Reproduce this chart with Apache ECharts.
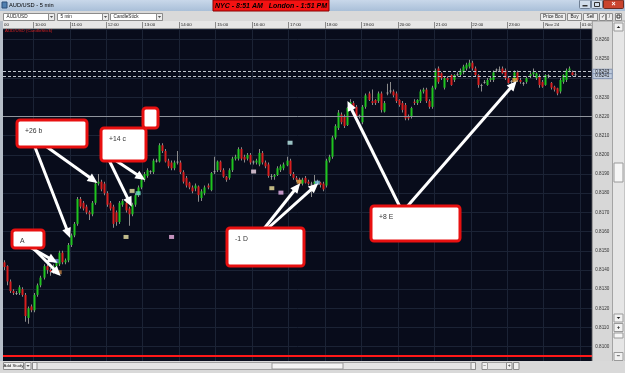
<!DOCTYPE html>
<html><head><meta charset="utf-8">
<script src="https://cdn.jsdelivr.net/npm/echarts@6/dist/echarts.min.js"></script>
<style>html,body{margin:0;padding:0;background:#d6d6d6;overflow:hidden}#c{width:625px;height:373px}</style>
</head><body><div id="c"></div><script>
// ---------------- DATA ----------------
const startMinute = 9 * 60 + 10;       // first bar 09:10, 5-minute bars
const barSlots = 194;                  // slots visible on the time axis
const hourNames = { '00:00': 'Nov 24' };
const opens = [
0.81440,0.81420,0.81340,0.81290,0.81280,0.81280,0.81300,0.81270,0.81150,0.81210,
0.81190,0.81270,0.81320,0.81360,0.81420,0.81400,0.81390,0.81420,0.81430,0.81490,
0.81440,0.81450,0.81530,0.81580,0.81640,0.81770,0.81750,0.81730,0.81700,0.81690,
0.81750,0.81850,0.81860,0.81850,0.81800,0.81750,0.81730,0.81700,0.81650,0.81740,
0.81750,0.81720,0.81690,0.81740,0.81790,0.81830,0.81870,0.81890,0.81910,0.81910,
0.81970,0.81965,0.82050,0.82020,0.81970,0.81960,0.81930,0.81960,0.81960,0.81910,
0.81880,0.81855,0.81830,0.81825,0.81835,0.81775,0.81800,0.81840,0.81816,0.81910,
0.81920,0.81965,0.81920,0.81886,0.81880,0.81920,0.81980,0.81980,0.82030,0.81990,
0.81980,0.82000,0.81965,0.81960,0.81950,0.82010,0.81960,0.81950,0.81890,0.81886,
0.81895,0.81920,0.81930,0.81945,0.81970,0.81900,0.81880,0.81870,0.81850,0.81880,
0.81860,0.81850,0.81850,0.81860,0.81855,0.81850,0.81840,0.81970,0.81990,0.82090,
0.82140,0.82210,0.82200,0.82155,0.82260,0.82270,0.82250,0.82205,0.82170,0.82250,
0.82320,0.82280,0.82286,0.82280,0.82320,0.82225,0.82320,0.82330,0.82330,0.82320,
0.82286,0.82270,0.82260,0.82200,0.82200,0.82277,0.82270,0.82280,0.82330,0.82340,
0.82280,0.82250,0.82350,0.82450,0.82425,0.82350,0.82400,0.82416,0.82390,0.82415,
0.82416,0.82430,0.82450,0.82460,0.82480,0.82450,0.82416,0.82364,0.82380,0.82364,
0.82390,0.82390,0.82440,0.82445,0.82450,0.82440,0.82400,0.82380,0.82390,0.82430,
0.82390,0.82375,0.82380,0.82410,0.82420,0.82400,0.82410,0.82380,0.82364,0.82415,
0.82375,0.82355,0.82347,0.82330,0.82380,0.82390,0.82440,0.82430,0.82420];
const closes = [
0.81415,0.81340,0.81290,0.81280,0.81280,0.81310,0.81270,0.81160,0.81200,0.81190,
0.81270,0.81320,0.81360,0.81420,0.81400,0.81390,0.81420,0.81440,0.81490,0.81440,
0.81450,0.81530,0.81580,0.81640,0.81770,0.81730,0.81720,0.81700,0.81690,0.81750,
0.81850,0.81860,0.81820,0.81800,0.81740,0.81720,0.81640,0.81650,0.81750,0.81760,
0.81710,0.81690,0.81740,0.81790,0.81830,0.81870,0.81900,0.81920,0.81915,0.81970,
0.81970,0.82050,0.82020,0.81965,0.81940,0.81930,0.81960,0.81965,0.81910,0.81860,
0.81840,0.81830,0.81810,0.81840,0.81790,0.81810,0.81830,0.81830,0.81905,0.81915,
0.81965,0.81920,0.81886,0.81870,0.81920,0.81980,0.81990,0.82030,0.81980,0.81975,
0.82000,0.81960,0.81960,0.81970,0.82010,0.81960,0.81940,0.81890,0.81886,0.81895,
0.81930,0.81940,0.81950,0.81970,0.81900,0.81880,0.81870,0.81850,0.81870,0.81855,
0.81850,0.81845,0.81860,0.81855,0.81843,0.81820,0.81970,0.81990,0.82090,0.82150,
0.82220,0.82170,0.82150,0.82245,0.82275,0.82244,0.82200,0.82200,0.82250,0.82310,
0.82286,0.82270,0.82270,0.82320,0.82234,0.82270,0.82325,0.82335,0.82310,0.82280,
0.82260,0.82234,0.82190,0.82190,0.82244,0.82270,0.82286,0.82330,0.82340,0.82280,
0.82250,0.82350,0.82440,0.82380,0.82400,0.82400,0.82390,0.82364,0.82416,0.82420,
0.82440,0.82460,0.82470,0.82480,0.82450,0.82416,0.82364,0.82360,0.82375,0.82390,
0.82400,0.82430,0.82445,0.82440,0.82425,0.82400,0.82375,0.82385,0.82430,0.82390,
0.82380,0.82370,0.82400,0.82420,0.82430,0.82425,0.82364,0.82355,0.82416,0.82410,
0.82350,0.82340,0.82320,0.82390,0.82416,0.82440,0.82450,0.82416,0.82416];
const highs = [
0.81450,0.81425,0.81350,0.81300,0.81290,0.81320,0.81310,0.81280,0.81210,0.81220,
0.81280,0.81330,0.81370,0.81430,0.81430,0.81410,0.81430,0.81450,0.81500,0.81500,
0.81460,0.81540,0.81590,0.81650,0.81780,0.81780,0.81760,0.81740,0.81710,0.81760,
0.81860,0.81900,0.81870,0.81860,0.81810,0.81760,0.81740,0.81710,0.81760,0.81770,
0.81760,0.81730,0.81750,0.81800,0.81840,0.81880,0.81910,0.81930,0.81920,0.81980,
0.81980,0.82060,0.82060,0.82030,0.81980,0.81970,0.81970,0.82020,0.81970,0.81920,
0.81890,0.81860,0.81840,0.81850,0.81840,0.81820,0.81840,0.81850,0.81910,0.81990,
0.81970,0.81970,0.81930,0.81890,0.81930,0.81990,0.82000,0.82040,0.82040,0.82000,
0.82010,0.82010,0.81970,0.81980,0.82030,0.82020,0.81970,0.81960,0.81900,0.81900,
0.81940,0.81950,0.81960,0.81990,0.81980,0.81910,0.81890,0.81880,0.81880,0.81890,
0.81870,0.81860,0.81895,0.81870,0.81860,0.81860,0.81980,0.82000,0.82100,0.82160,
0.82234,0.82220,0.82210,0.82250,0.82290,0.82280,0.82260,0.82210,0.82260,0.82320,
0.82330,0.82340,0.82290,0.82330,0.82330,0.82280,0.82370,0.82380,0.82340,0.82330,
0.82290,0.82280,0.82270,0.82210,0.82250,0.82290,0.82290,0.82340,0.82350,0.82350,
0.82290,0.82360,0.82450,0.82460,0.82430,0.82410,0.82410,0.82420,0.82420,0.82430,
0.82450,0.82470,0.82480,0.82495,0.82490,0.82460,0.82420,0.82370,0.82390,0.82400,
0.82410,0.82440,0.82450,0.82460,0.82460,0.82450,0.82410,0.82390,0.82440,0.82440,
0.82400,0.82380,0.82410,0.82430,0.82450,0.82430,0.82420,0.82390,0.82420,0.82420,
0.82380,0.82360,0.82350,0.82400,0.82420,0.82450,0.82460,0.82440,0.82430];
const lows = [
0.81400,0.81320,0.81280,0.81270,0.81270,0.81270,0.81260,0.81130,0.81120,0.81180,
0.81180,0.81260,0.81310,0.81350,0.81380,0.81370,0.81380,0.81410,0.81420,0.81430,
0.81430,0.81440,0.81520,0.81570,0.81630,0.81720,0.81710,0.81690,0.81660,0.81680,
0.81740,0.81840,0.81810,0.81790,0.81730,0.81710,0.81620,0.81630,0.81640,0.81730,
0.81700,0.81630,0.81680,0.81730,0.81780,0.81820,0.81860,0.81880,0.81900,0.81900,
0.81960,0.81960,0.82010,0.81960,0.81930,0.81920,0.81920,0.81950,0.81900,0.81850,
0.81830,0.81820,0.81800,0.81810,0.81755,0.81760,0.81790,0.81820,0.81810,0.81900,
0.81910,0.81910,0.81880,0.81860,0.81870,0.81910,0.81970,0.81970,0.81970,0.81960,
0.81970,0.81950,0.81950,0.81950,0.81940,0.81950,0.81930,0.81880,0.81870,0.81870,
0.81890,0.81910,0.81920,0.81940,0.81890,0.81870,0.81860,0.81840,0.81840,0.81850,
0.81840,0.81780,0.81840,0.81850,0.81830,0.81810,0.81830,0.81960,0.81980,0.82080,
0.82130,0.82160,0.82140,0.82150,0.82250,0.82240,0.82190,0.82190,0.82160,0.82240,
0.82280,0.82260,0.82260,0.82270,0.82220,0.82220,0.82310,0.82320,0.82300,0.82270,
0.82250,0.82220,0.82180,0.82180,0.82190,0.82260,0.82260,0.82270,0.82320,0.82270,
0.82240,0.82240,0.82340,0.82370,0.82390,0.82340,0.82380,0.82360,0.82380,0.82410,
0.82410,0.82420,0.82440,0.82450,0.82440,0.82410,0.82350,0.82330,0.82370,0.82360,
0.82380,0.82380,0.82430,0.82435,0.82420,0.82390,0.82370,0.82370,0.82380,0.82380,
0.82370,0.82360,0.82370,0.82400,0.82410,0.82390,0.82350,0.82350,0.82360,0.82400,
0.82340,0.82330,0.82310,0.82320,0.82370,0.82380,0.82430,0.82410,0.82410];
const priceMin = 0.8090, priceMax = 0.826558, priceStep = 0.001;
const bidAskPrices = [0.82433, 0.82410];
const levelPrice = 0.8220;
const redLinePrice = 0.80952;
// trade markers: [bar index, price, colour]
const markerIdx   = [40, 55, 82, 94, 88, 91, 42, 44, 97, 103, 168, 18, 17];
const markerPrice = [0.81572, 0.81572, 0.81913, 0.82063, 0.81826, 0.81803, 0.81812, 0.81800, 0.81860, 0.81855, 0.82390, 0.81388, 0.81447];
const markerColor = ['#efe6a6','#f2b4e6','#f6dcec','#bff0ee','#efe39c','#f0b8f0','#efe6a6','#6fe0c8','#e8a84a','#7cc4e6','#e8a84a','#c08040','#6a86c8'];
// annotation labels and arrow targets [bar index (fractional), price]
const noteLabels = ['+26 b', '+14 c', '', 'A', '-1 D', '+8 E'];
const arrowTargets = [[21.6,0.81567],[30.6,0.81853],[41.9,0.81730],[46.3,0.81869],[17.4,0.81438],[18.5,0.81369],[97.3,0.81852],[103.3,0.81852],[112.9,0.82281],[168.6,0.82385]];

// ---------------- LAYOUT ----------------
const categories = [];
for (let k = 0; k < barSlots; k++) {
  const m = startMinute + 5 * k, h = Math.floor(m / 60) % 24, mm = m % 60;
  categories.push(String(h).padStart(2, '0') + ':' + String(mm).padStart(2, '0'));
}
const GL = 3, GT = 29, BW = 3.0375, GW = BW * barSlots;
const PX_PER_PIP = 1.91875;
const GH = (priceMax - priceMin) / 0.0001 * PX_PER_PIP;
const F = 'Liberation Sans';
const isHour = (i, v) => typeof v === 'string' && v.slice(3) === '00';
const priceFmt = v => (Math.abs(v * 1000 - Math.round(v * 1000)) < 1e-6 ? v.toFixed(4) : '');

const candleData = opens.map((o, i) => [i, o, closes[i], lows[i], highs[i]]);
function renderCandle(params, api) {
  const i = api.value(0), o = api.value(1), c = api.value(2), l = api.value(3), h = api.value(4);
  const pO = api.coord([i, o]), pC = api.coord([i, c]), pH = api.coord([i, h]), pL = api.coord([i, l]);
  const cx = Math.floor(pO[0]);
  const top = Math.min(pO[1], pC[1]);
  const bh = Math.max(1, Math.abs(pO[1] - pC[1]));
  const doji = Math.abs(c - o) < 0.00006;
  const col = doji ? '#a0a0a0' : (c > o ? '#1fc41f' : '#d81e1e');
  return { type: 'group', children: [
    { type: 'rect', shape: { x: cx, y: pH[1], width: 1, height: Math.max(1, pL[1] - pH[1]) }, style: { fill: '#8a8a8a' } },
    { type: 'rect', shape: { x: cx - 0.5, y: top, width: 2, height: bh }, style: { fill: col } }
  ] };
}
const markerData = markerIdx.map((x, k) => ({ value: [x, markerPrice[k]], itemStyle: { color: markerColor[k] } }));

const chart = echarts.init(document.getElementById('c'), null, { renderer: 'canvas', width: 625, height: 373 });
chart.setOption({
  animation: false,
  backgroundColor: '#d6d6d6',
  textStyle: { fontFamily: F },
  grid: { left: GL, top: GT, width: GW, height: GH, show: true, backgroundColor: '#080c1b', borderWidth: 0 },
  xAxis: {
    type: 'category', data: categories, position: 'top', boundaryGap: true, z: 1,
    axisLine: { show: false },
    axisTick: { show: true, interval: isHour, length: 7, lineStyle: { color: '#8a8a8a' } },
    axisLabel: { interval: isHour, formatter: v => hourNames[v] || v, align: 'left', margin: 2, fontSize: 4.4, color: '#222', fontFamily: F },
    splitLine: { show: true, interval: isHour, lineStyle: { color: '#1b2335', width: 1 } }
  },
  yAxis: [
    { type: 'value', position: 'left', min: priceMin, max: priceMax, interval: priceStep, z: 1,
      axisLine: { show: false }, axisTick: { show: false }, axisLabel: { show: false },
      splitLine: { show: true, lineStyle: { color: '#1b2335', width: 1 } } },
    { type: 'value', position: 'right', min: priceMin, max: priceMax, interval: priceStep, z: 20,
      axisLine: { show: false }, axisTick: { show: false }, splitLine: { show: false },
      axisLabel: { margin: 3, fontSize: 4.6, color: '#333', fontFamily: F, formatter: priceFmt } }
  ],
  series: [
    { type: 'custom', renderItem: renderCandle, data: candleData, encode: { x: 0, y: [1, 2, 3, 4] }, clip: true, z: 3 },
    { type: 'scatter', data: markerData, symbol: 'rect', symbolSize: [5, 4], z: 4, silent: true,
      markLine: { silent: true, symbol: ['none', 'none'], label: { show: false }, animation: false, precision: 5,
        data: [
          { yAxis: redLinePrice, lineStyle: { color: '#ff1818', width: 2, type: 'solid' } },
          { yAxis: levelPrice, lineStyle: { color: '#8f949c', width: 1, type: 'solid' } },
          { yAxis: bidAskPrices[0], lineStyle: { color: '#bfc4cd', width: 1, type: [3, 2] } },
          { yAxis: bidAskPrices[1], lineStyle: { color: '#bfc4cd', width: 1, type: [3, 2] } }
        ] } }
  ]
});

// ---------------- CHROME + ANNOTATIONS ----------------
function R(x, y, w, h, fill, stroke, z, r) {
  return { type: 'rect', silent: true, z: z == null ? 10 : z, shape: { x, y, width: w, height: h, r: r || 0 },
    style: { fill, stroke: stroke || null, lineWidth: stroke ? 1 : 0 } };
}
function T(x, y, text, size, color, extra, z) {
  return { type: 'text', silent: true, z: z == null ? 60 : z, x, y,
    style: Object.assign({ text, fontSize: size, fontFamily: F, fill: color || '#222', align: 'left', verticalAlign: 'middle' }, extra || {}) };
}
function tri(cx, cy, s, down) {
  return { type: 'polygon', silent: true, z: 61, shape: { points: down ? [[cx - s, cy - s / 2], [cx + s, cy - s / 2], [cx, cy + s / 2]] : [[cx - s, cy + s / 2], [cx + s, cy + s / 2], [cx, cy - s / 2]] }, style: { fill: '#222' } };
}
function px(idx, price) {
  const f = Math.floor(idx);
  const p = chart.convertToPixel({ xAxisIndex: 0, yAxisIndex: 0 }, [f, price]);
  return [p[0] + (idx - f) * BW, p[1]];
}
function arrow(x1, y1, x2, y2) {
  const dx = x2 - x1, dy = y2 - y1, len = Math.hypot(dx, dy), ux = dx / len, uy = dy / len;
  const hl = 10, hw = 4.5, bx = x2 - ux * hl, by = y2 - uy * hl;
  return [
    { type: 'line', silent: true, z: 40, shape: { x1, y1, x2: bx + ux, y2: by + uy }, style: { stroke: '#ffffff', lineWidth: 3 } },
    { type: 'polygon', silent: true, z: 40, shape: { points: [[x2, y2], [bx - uy * hw, by + ux * hw], [bx + uy * hw, by - ux * hw]] }, style: { fill: '#ffffff' } }
  ];
}

const g = [];
// title bar
g.push(R(0, 0, 625, 11, { type: 'linear', x: 0, y: 0, x2: 0, y2: 1, colorStops: [{ offset: 0, color: '#c9d8ea' }, { offset: 1, color: '#a9bfd8' }] }, null, 10));
g.push(R(2, 2, 5, 6, '#4f7fb0', '#2d4f78', 11));
g.push(T(9, 5.5, 'AUD/USD - 5 min', 5.7, '#000'));
g.push(R(213, 0, 116, 11, '#f41212', '#8a0000', 11));
g.push(T(271, 5.8, 'NYC - 8:51 AM   London - 1:51 PM', 7, '#000', { align: 'center', fontWeight: 'bold', fontStyle: 'italic' }));
g.push(R(579.5, 0, 11, 8.5, '#d2deeb', '#6f7f94', 11, 1));
g.push(R(591.5, 0, 11, 8.5, '#d2deeb', '#6f7f94', 11, 1));
g.push(R(603.5, 0, 20, 8.5, '#c9442e', '#6b2a20', 11, 1));
g.push(R(582.5, 5, 5, 1.5, '#333', null, 12));
g.push(R(594.5, 2.5, 5, 4, 'none', '#333', 12));
g.push(T(613.5, 4.5, '×', 7, '#fff', { align: 'center', fontWeight: 'bold' }));
// toolbar
g.push(R(0, 11, 625, 10, '#d9d9d9', null, 10));
[[3.5, 51, 'AUD/USD'], [57.5, 51, '5 min'], [110.5, 52, 'CandleStick']].forEach(d => {
  g.push(R(d[0], 13.5, d[1], 7, '#ffffff', '#8c8c8c', 11));
  g.push(R(d[0] + d[1] - 6, 13.5, 6, 7, '#ececec', '#8c8c8c', 12));
  g.push(tri(d[0] + d[1] - 3, 17, 1.6, true));
  g.push(T(d[0] + 3, 17.2, d[2], 4.7, '#222'));
});
[[540.5, 25, 'Price Box'], [567.5, 14, 'Buy'], [583.5, 14, 'Sell']].forEach(d => {
  g.push(R(d[0], 13.5, d[1], 7, '#eeeeee', '#8c8c8c', 11));
  g.push(T(d[0] + d[1] / 2, 17.2, d[2], 4.7, '#222', { align: 'center' }));
});
g.push(R(599.5, 13.5, 6, 7, '#eeeeee', '#8c8c8c', 11));
g.push(T(602.5, 17, '✓', 5, '#333', { align: 'center' }));
g.push(R(606.5, 13.5, 6, 7, '#eeeeee', '#8c8c8c', 11));
g.push(T(609.5, 17, '/', 5, '#333', { align: 'center' }));
g.push(R(615.5, 13.5, 6, 7, '#eeeeee', '#8c8c8c', 11));
g.push(R(617, 15, 3, 3, 'none', '#333', 12));
// time header strip (below the x-axis labels)
g.push(R(GL, 21, GW, 8, '#e6e6e6', null, 0));
g.push(R(GL, 28.3, GW, 0.7, '#8a8a8a', null, 0));
g.push(T(4, 25.2, '00', 4.4, '#222', null, 6));
// left border
g.push(R(0, 21, GL, 342, '#b6bec8', null, 10));
// price panel (covers overflowing time labels)
g.push(R(GL + GW, 21, 612.5 - GL - GW, 341, '#d7d7d7', '#9c9c9c', 10));
// right scrollbar column
g.push(R(612.5, 21, 12.5, 341, '#e6e6e6', '#a4a4a4', 10));
g.push(R(614, 23, 9, 8, '#f2f2f2', '#9a9a9a', 11));
g.push(tri(618.5, 27, 1.8, false));
g.push(R(614, 163, 9, 19, '#f6f6f6', '#9a9a9a', 11));
g.push(R(614, 314, 9, 8, '#f2f2f2', '#9a9a9a', 11));
g.push(tri(618.5, 318, 1.8, true));
g.push(R(614, 323.5, 9, 8, '#f2f2f2', '#9a9a9a', 11));
g.push(T(618.5, 327.5, '+', 6, '#222', { align: 'center', fontWeight: 'bold' }));
g.push(R(614, 333, 9, 5, '#f6f6f6', '#9a9a9a', 11));
g.push(R(614, 352.5, 9, 8, '#f2f2f2', '#9a9a9a', 11));
g.push(T(618.5, 356.5, '−', 6, '#222', { align: 'center', fontWeight: 'bold' }));
// bottom bar
g.push(R(0, 361, 625, 12, '#d9d9d9', null, 50));
g.push(R(3.5, 362.5, 20, 7, '#f0f0f0', '#8c8c8c', 51));
g.push(T(13.5, 366, 'Add Study', 4.3, '#222', { align: 'center' }));
g.push(R(25, 362.5, 6, 7, '#f0f0f0', '#8c8c8c', 51));
g.push(tri(28, 366, 1.6, true));
g.push(R(32.5, 362.5, 443, 7, '#e4e4e4', '#a0a0a0', 51));
g.push(R(32.5, 362.5, 4.5, 7, '#f0f0f0', '#8c8c8c', 52));
g.push(R(272, 363, 71, 6, '#f4f4f4', '#9a9a9a', 52));
g.push(R(471, 362.5, 4.5, 7, '#f0f0f0', '#8c8c8c', 52));
g.push(R(482, 362.5, 5.5, 7, '#f0f0f0', '#8c8c8c', 51));
g.push(T(484.8, 365.8, '−', 5, '#222', { align: 'center' }));
g.push(R(487.5, 362.5, 19, 7, '#e4e4e4', '#a0a0a0', 51));
g.push(R(506.5, 362.5, 5.5, 7, '#f0f0f0', '#8c8c8c', 51));
g.push(T(509.3, 365.8, '+', 5, '#222', { align: 'center' }));
g.push(R(513.5, 362.5, 5.5, 7, '#f0f0f0', '#8c8c8c', 51));
// red caption in plot
g.push(T(5, 31, 'AUD/USD (CandleStick)', 4.4, '#d42020', null, 30));
// bid/ask boxes on the price axis
bidAskPrices.forEach(p => {
  const y = px(0, p)[1];
  g.push(R(GL + GW + 0.5, y - 2.5, 19.5, 5, '#bfcbdd', '#8796b2', 25));
  g.push(T(GL + GW + 10, y, p.toFixed(4), 4.6, '#222', { align: 'center' }, 26));
});
// annotation boxes
const boxes = [[17, 120, 70, 27], [101, 128, 45, 33], [143, 108, 15, 20], [12, 230, 32, 18], [227, 228, 77, 38], [371, 206, 89, 35]];
boxes.forEach((b, k) => {
  g.push(R(b[0], b[1], b[2], b[3], '#ffffff', null, 42, 3));
  g.push({ type: 'rect', silent: true, z: 43, shape: { x: b[0], y: b[1], width: b[2], height: b[3], r: 3 }, style: { fill: 'none', stroke: '#e81010', lineWidth: 3 } });
  if (noteLabels[k]) g.push(T(b[0] + 8, b[1] + 11, noteLabels[k], 6.8, '#333', null, 44));
});
// arrows (start inside the boxes, end on data points)
const arrowStarts = [[33, 142], [40, 142], [108, 158], [112, 158], [28, 246], [31, 246], [263, 230], [266, 230], [401, 209], [405, 209]];
arrowStarts.forEach((s, k) => {
  const t = px(arrowTargets[k][0], arrowTargets[k][1]);
  arrow(s[0], s[1], t[0], t[1]).forEach(e => g.push(e));
});
chart.setOption({ graphic: { elements: g } });
</script></body></html>
